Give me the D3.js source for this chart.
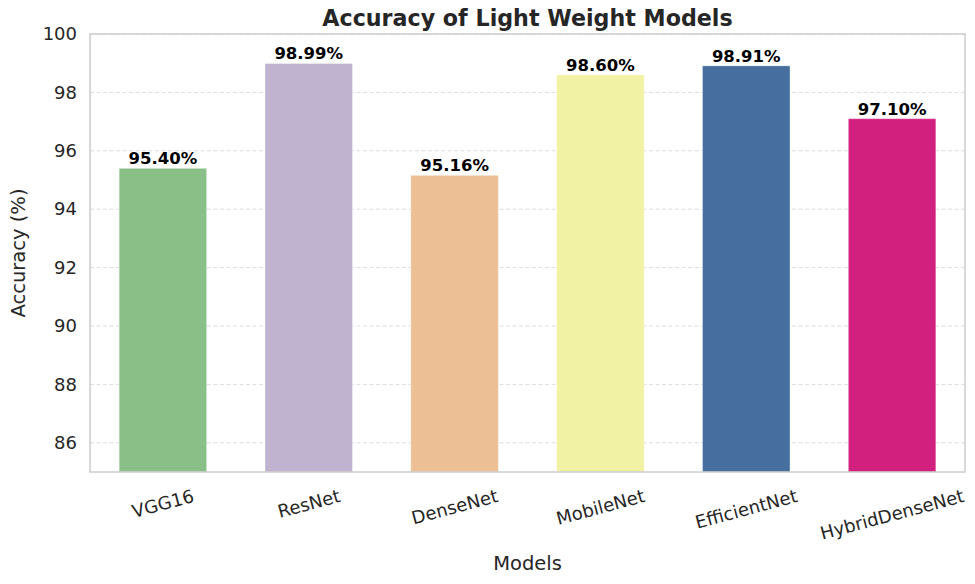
<!DOCTYPE html>
<html><head><meta charset="utf-8">
<script src="https://cdn.jsdelivr.net/npm/d3@7"></script>
<style>body{margin:0;background:#fff}svg{display:block;font-family:"DejaVu Sans",sans-serif}</style>
</head><body><svg id="c" width="975" height="584"></svg>
<script>
const models = ["VGG16","ResNet","DenseNet","MobileNet","EfficientNet","HybridDenseNet"];
const accuracy = [95.40, 98.99, 95.16, 98.60, 98.91, 97.10];
const colors = ["#8abf88","#c0b3cf","#ecbf94","#f2f2a5","#466e9e","#d2207e"];
const yTicks = [86,88,90,92,94,96,98,100];

const svg = d3.select("#c");
const m = {l:90, r:10, t:34, b:112};
const W = 975, H = 584;
const x = d3.scaleBand().domain(models).range([m.l, W-m.r]).paddingInner(0.4).paddingOuter(0.2);
const y = d3.scaleLinear().domain([85,100]).range([H-m.b, m.t]);

// grid
svg.append("g").selectAll("line").data(yTicks).join("line")
  .attr("x1", m.l).attr("x2", W-m.r).attr("y1", d=>y(d)).attr("y2", d=>y(d))
  .attr("stroke","#dcdcdc").attr("stroke-width",1).attr("stroke-dasharray","4,2.5");

// bars
svg.append("g").selectAll("rect").data(models).join("rect")
  .attr("x", d=>x(d)).attr("width", x.bandwidth())
  .attr("y", (d,i)=>y(accuracy[i])).attr("height", (d,i)=>y(85)-y(accuracy[i]))
  .attr("fill", (d,i)=>colors[i]).attr("stroke","#ffffff").attr("stroke-opacity",0.35).attr("stroke-width",1);

// value labels
svg.append("g").selectAll("text").data(models).join("text")
  .attr("x", d=>x(d)+x.bandwidth()/2).attr("y", (d,i)=>y(accuracy[i])-4)
  .attr("text-anchor","middle").attr("font-weight","bold").attr("font-size",16.5).attr("fill","#000")
  .text((d,i)=>accuracy[i].toFixed(2)+"%");

// frame
svg.append("rect").attr("x", m.l).attr("y", m.t).attr("width", W-m.r-m.l).attr("height", H-m.b-m.t)
  .attr("fill","none").attr("stroke","#cccccc").attr("stroke-width",1.5);

// y axis
const ya = svg.append("g").attr("transform",`translate(${m.l},0)`)
  .call(d3.axisLeft(y).tickValues(yTicks).tickSize(0).tickPadding(13));
ya.select(".domain").remove();
ya.selectAll("text").attr("font-size",18).attr("fill","#262626").attr("font-family","DejaVu Sans");

// x axis
const fs = 18, ang = 15*Math.PI/180;
const xa = svg.append("g").attr("transform",`translate(0,${H-m.b})`)
  .call(d3.axisBottom(x).tickSize(0).tickPadding(0));
xa.select(".domain").remove();
xa.selectAll("text").attr("font-size",fs).attr("fill","#262626").attr("font-family","DejaVu Sans")
  .attr("y",0).attr("dy",0).attr("dominant-baseline","central")
  .each(function(){
    const w = this.getComputedTextLength();
    const cy = 15 + (w*Math.sin(ang) + fs*0.95*Math.cos(ang))/2;
    d3.select(this).attr("transform",`translate(0,${cy}) rotate(-15)`);
  });

// titles
svg.append("text").attr("x",(m.l+W-m.r)/2).attr("y",26).attr("text-anchor","middle")
  .attr("font-weight","bold").attr("font-size",22.2).attr("fill","#262626").text("Accuracy of Light Weight Models");
svg.append("text").attr("x",(m.l+W-m.r)/2).attr("y",570).attr("text-anchor","middle")
  .attr("font-size",19.5).attr("fill","#262626").text("Models");
svg.append("text").attr("transform",`translate(25,${(m.t+H-m.b)/2}) rotate(-90)`).attr("text-anchor","middle")
  .attr("font-size",19.5).attr("fill","#262626").text("Accuracy (%)");
</script></body></html>
